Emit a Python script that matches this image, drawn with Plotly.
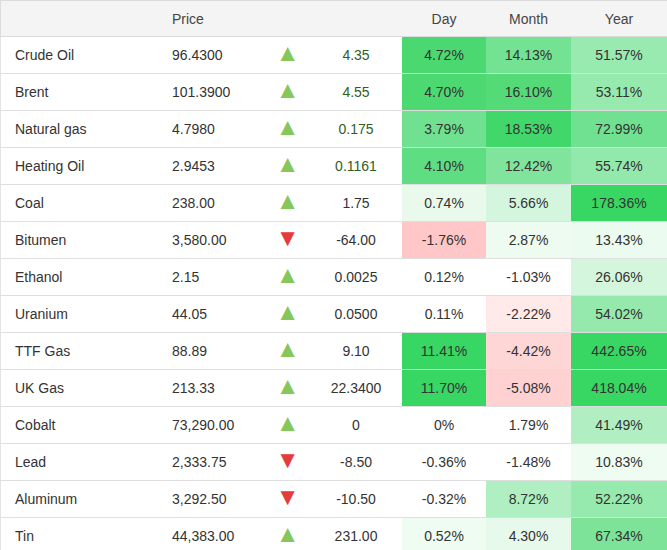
import plotly.graph_objects as go

# ---------------- data ----------------
names = ["Crude Oil", "Brent", "Natural gas", "Heating Oil", "Coal", "Bitumen",
         "Ethanol", "Uranium", "TTF Gas", "UK Gas", "Cobalt", "Lead", "Aluminum", "Tin"]
prices = ["96.4300", "101.3900", "4.7980", "2.9453", "238.00", "3,580.00", "2.15",
          "44.05", "88.89", "213.33", "73,290.00", "2,333.75", "3,292.50", "44,383.00"]
changes = ["4.35", "4.55", "0.175", "0.1161", "1.75", "-64.00", "0.0025", "0.0500",
           "9.10", "22.3400", "0", "-8.50", "-10.50", "231.00"]
day_pct = [4.72, 4.70, 3.79, 4.10, 0.74, -1.76, 0.12, 0.11, 11.41, 11.70, 0, -0.36, -0.32, 0.52]
month_pct = [14.13, 16.10, 18.53, 12.42, 5.66, 2.87, -1.03, -2.22, -4.42, -5.08, 1.79, -1.48, 8.72, 4.30]
year_pct = [51.57, 53.11, 72.99, 55.74, 178.36, 13.43, 26.06, 54.02, 442.65, 418.04, 41.49, 10.83, 52.22, 67.34]
headers = ["", "", "Price", "", "", "Day", "Month", "Year"]

# ---------------- styles ----------------
W = "#ffffff"
CLEAR = "rgba(0,0,0,0)"
day_fill = ["#4cd871", "#4dd972", "#70e190", "#5fdd82", "#e9faed", "#ffc7c7", W, W,
            "#38d663", "#38d663", W, W, W, "#eefcf1"]
month_fill = ["#74e293", "#54da77", "#42d76a", "#80e49c", "#d5f6de", "#edfbf0", W, "#ffe9e9",
              "#ffd6d6", "#ffd1d1", W, W, "#b0efc1", "#e7f9eb"]
year_fill = ["#99eab0", "#97eaae", "#70e190", "#93e9ab", "#38d663", "#ebfbef", "#d3f6dc",
             "#96e9ad", "#38d663", "#38d663", "#b1efc2", "#eefcf1", "#97eaae", "#7ce399"]
change_text_color = ["#2f5e1f"] * 4 + ["#333333"] * 10
TEXT = "#333333"
UP, DOWN = "#86c75b", "#e53b3b"
FONT = "Liberation Sans, Arial, sans-serif"
HDR_BG = "#f4f4f4"
RULE = "rgba(222,222,222,0.85)"


def pct(v):
    return "0%" if v == 0 else f"{v:.2f}%"


arrows = ["▼" if c.startswith("-") else "▲" for c in changes]
arrow_colors = [DOWN if a == "▼" else UP for a in arrows]
n = len(names)
blank = [""] * n

text_cols = [blank, names, prices, blank, changes,
             [pct(v) for v in day_pct], [pct(v) for v in month_pct], [pct(v) for v in year_pct]]
arrow_cols = [blank, blank, blank, arrows, blank, blank, blank, blank]
fills = [[W] * n, [W] * n, [W] * n, [W] * n, [W] * n, day_fill, month_fill, year_fill]
font_colors = [[TEXT] * n, [TEXT] * n, [TEXT] * n, [TEXT] * n, change_text_color,
               [TEXT] * n, [TEXT] * n, [TEXT] * n]
widths = [7, 157, 101, 45, 92, 84, 85, 96]
aligns = ["left", "left", "left", "center", "center", "center", "center", "center"]

H = 562            # figure height (window shows the top 550 px)
HDR_H, ROW_H = 36, 37
CONTENT = HDR_H + ROW_H * len(names)
SHIFT = 5          # text sits a little lower than plotly's default top padding

grid_dom = [(H - CONTENT) / H, 1]
text_dom = [(H - CONTENT - SHIFT) / H, (H - SHIFT) / H]

fig = go.Figure()
# 1) cell backgrounds
fig.add_trace(go.Table(
    domain=dict(x=[0, 1], y=grid_dom),
    columnwidth=widths,
    header=dict(values=[""] * len(headers), fill_color=HDR_BG,
                line=dict(color=HDR_BG, width=1), height=HDR_H),
    cells=dict(values=[blank] * len(text_cols), fill_color=fills,
               line=dict(color=fills, width=1), height=ROW_H),
))
# 2) horizontal row rules (single full-width column)
fig.add_trace(go.Table(
    domain=dict(x=[0, 1], y=grid_dom),
    columnwidth=[1],
    header=dict(values=[""], fill_color=CLEAR, line=dict(color="#dcdcdc", width=1), height=HDR_H),
    cells=dict(values=[blank], fill_color=CLEAR, line=dict(color=RULE, width=1), height=ROW_H),
))
# 3) text layer
fig.add_trace(go.Table(
    domain=dict(x=[0, 1], y=text_dom),
    columnwidth=widths,
    header=dict(values=headers, fill_color=CLEAR, line=dict(color=CLEAR, width=0),
                align=aligns, height=HDR_H,
                font=dict(family=FONT, size=14, color="#444444")),
    cells=dict(values=text_cols, fill_color=CLEAR, line=dict(color=CLEAR, width=0),
               align=aligns, height=ROW_H,
               font=dict(family=FONT, size=14, color=font_colors)),
))
# 4) arrow layer (larger glyphs, placed slightly higher)
fig.add_trace(go.Table(
    domain=dict(x=[0, 1], y=grid_dom),
    columnwidth=widths,
    header=dict(values=[""] * len(headers), fill_color=CLEAR, line=dict(color=CLEAR, width=0),
                height=HDR_H - 1),
    cells=dict(values=arrow_cols, fill_color=CLEAR, line=dict(color=CLEAR, width=0),
               align=aligns, height=ROW_H,
               font=dict(family=FONT, size=24, color=[[TEXT] * n] * 3 + [arrow_colors] + [[TEXT] * n] * 4)),
))
fig.update_layout(width=667, height=H, margin=dict(l=0, r=0, t=0, b=0),
                  paper_bgcolor="white")
fig.write_html("out.html", config={"displayModeBar": False},
               post_script="document.body.style.margin='0';document.body.style.overflow='hidden';")
